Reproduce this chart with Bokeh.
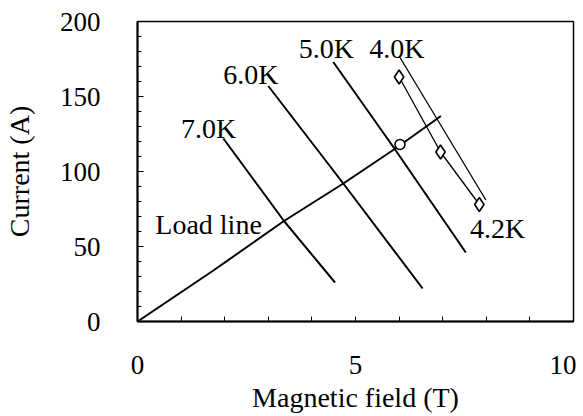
from bokeh.plotting import figure
from bokeh.models import Range1d, FixedTicker, ColumnDataSource
from bokeh.core.properties import value
from bokeh.embed import file_html
from bokeh.resources import INLINE

# Iso-temperature critical current lines (Magnetic field in T, Current in A)
t70_b = [1.97, 3.36, 4.53]
t70_i = [122, 67, 26]
t60_b = [3.00, 4.72, 6.54]
t60_i = [157, 92, 22]
t50_b = [4.49, 5.90, 7.53]
t50_i = [173, 115, 46]
t40_b = [6.00, 7.99]
t40_i = [177, 81]
t42_b = [6.00, 6.95, 7.84]
t42_i = [163, 113, 78]

# Load line
load_b = [0, 1.74, 3.36, 4.72, 5.90, 6.96]
load_i = [0, 34, 67, 92, 115, 137]

# Operating point on load line
op_b = [6.02]
op_i = [118]

# Annotations
lab_text = ["7.0K", "6.0K", "5.0K", "4.0K", "4.2K", "Load line"]
lab_b = [1.63, 2.60, 4.33, 5.95, 8.26, 1.63]
lab_i = [129, 165, 182, 182, 62, 65]

x_major = [0, 5, 10]
x_minor = [1, 2, 3, 4, 6, 7, 8, 9]
y_major = [0, 50, 100, 150, 200]
y_minor = [10, 20, 30, 40, 60, 70, 80, 90, 110, 120, 130, 140, 160, 170, 180, 190]

FONT = "Liberation Serif"

p = figure(width=576, height=416, output_backend="svg", toolbar_location=None,
           x_range=Range1d(0, 10), y_range=Range1d(0, 200),
           min_border_left=135, min_border_right=3, min_border_top=21, min_border_bottom=95)
p.grid.visible = False
p.background_fill_color = "white"
p.border_fill_color = "white"
p.outline_line_color = "black"
p.outline_line_width = 1.5

for ax in (p.xaxis[0], p.yaxis[0]):
    ax.axis_line_width = 2
    ax.axis_line_color = "black"
    ax.major_tick_out = 0
    ax.minor_tick_out = 0
    ax.major_tick_line_color = "black"
    ax.minor_tick_line_color = "black"
    ax.major_label_text_font = FONT
    ax.major_label_text_font_size = "27px"
    ax.major_label_text_color = "black"
    ax.axis_label_text_font = FONT
    ax.axis_label_text_font_size = "28px"
    ax.axis_label_text_font_style = "normal"
    ax.axis_label_text_color = "black"

p.xaxis.ticker = FixedTicker(ticks=x_major, minor_ticks=x_minor)
p.xaxis.major_tick_in = 5
p.xaxis.minor_tick_in = 5
p.xaxis.major_label_standoff = 34
p.xaxis.axis_label = "Magnetic field (T)"
p.xaxis.axis_label_standoff = 5

p.yaxis.ticker = FixedTicker(ticks=y_major, minor_ticks=y_minor)
p.yaxis.major_tick_in = 6
p.yaxis.minor_tick_in = 4
p.yaxis.major_label_standoff = 37
p.yaxis.axis_label = "Current (A)"
p.yaxis.axis_label_standoff = 22

for b, i in ((t70_b, t70_i), (t60_b, t60_i), (t50_b, t50_i), (load_b, load_i)):
    p.line(b, i, line_color="black", line_width=2)
for b, i in ((t40_b, t40_i), (t42_b, t42_i)):
    p.line(b, i, line_color="black", line_width=1.3)

p.scatter(t42_b, t42_i, marker="diamond", size=14, fill_color="white",
          line_color="black", line_width=1.6)
p.scatter(op_b, op_i, marker="circle", size=10, fill_color="white",
          line_color="black", line_width=1.6)

src = ColumnDataSource(dict(x=lab_b, y=lab_i, t=lab_text))
p.text(x="x", y="y", text="t", source=src, text_font=value(FONT),
       text_font_size="28px", text_align="center", text_baseline="middle",
       text_color="black")

open("out.html", "w").write(file_html(p, INLINE))
